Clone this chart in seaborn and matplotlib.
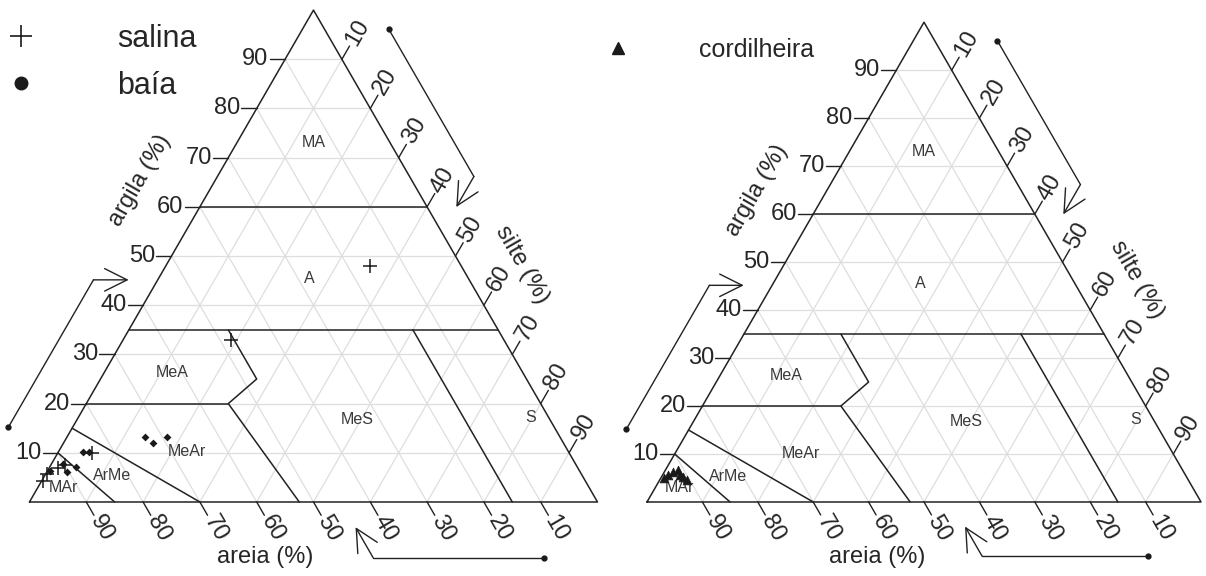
import numpy as np
import pandas as pd
import matplotlib
matplotlib.use('Agg')
import matplotlib.pyplot as plt
from matplotlib.lines import Line2D
import seaborn as sns

# amostras: areia, silte, argila (%)
salina_areia = [16, 48, 95.5, 94, 91.5, 90, 84]
salina_silte = [36, 19, 0.3, 0.3, 1.5, 2.5, 6]
salina_argila = [48, 33, 4.2, 5.7, 7, 7.5, 10]

baia_areia = [73, 72.3, 69.2, 85.5, 84.5, 93.3, 90.3, 90.4, 88.2]
baia_silte = [13.7, 15.7, 17.6, 4.4, 5.4, 0.5, 2, 3.5, 4.7]
baia_argila = [13.3, 12, 13.2, 10.1, 10.1, 6.2, 7.7, 6.1, 7.1]

cord_areia = [93.4, 92.2, 91, 90.9, 90.5, 91.2, 94.4]
cord_silte = [1, 1.6, 2.3, 3.9, 4.9, 3.2, 0.6]
cord_argila = [5.6, 6.2, 6.7, 5.2, 4.6, 5.6, 5]

# classes texturais: limites (areia, silte, argila)
limites = [
    [(40, 0, 60), (0, 40, 60)],
    [(65, 0, 35), (0, 65, 35)],
    [(15, 50, 35), (15, 85, 0)],
    [(47.5, 17.5, 35), (47.5, 27.5, 25), (55, 25, 20), (52.5, 47.5, 0)],
    [(80, 0, 20), (55, 25, 20)],
    [(85, 0, 15), (70, 30, 0)],
    [(90, 0, 10), (85, 15, 0)],
]
classes = ['MA', 'A', 'MeA', 'MeS', 'S', 'MeAr', 'ArMe', 'MAr']
classes_pos = [(13.5, 13.5, 73), (28, 26.5, 45.5), (61.7, 11.9, 26.4), (34, 49.3, 16.7),
               (3.3, 79.6, 17.1), (67.2, 22.6, 10.2), (82.8, 11.9, 5.3), (92.6, 4.4, 3.0)]
ticks = [10, 20, 30, 40, 50, 60, 70, 80, 90]

S3 = np.sqrt(3) / 2


def tern(areia, silte, argila):
    areia, silte, argila = (np.asarray(v, dtype=float) for v in (areia, silte, argila))
    tot = areia + silte + argila
    return (silte + argila / 2) / tot, argila / tot * S3


def draw_panel(ax, titles):
    # grade
    for v in ticks:
        for a, b in [((100 - v, 0, v), (0, 100 - v, v)),
                     ((v, 100 - v, 0), (v, 0, 100 - v)),
                     ((100 - v, v, 0), (0, v, 100 - v))]:
            x, y = tern(*zip(a, b))
            ax.plot(x, y, color='#dedede', lw=0.9, zorder=1)
    # contorno
    x, y = tern([100, 0, 0, 100], [0, 100, 0, 0], [0, 0, 100, 0])
    ax.plot(x, y, color='#222222', lw=1.1, zorder=2)
    for seg in limites:
        x, y = tern(*zip(*seg))
        ax.plot(x, y, color='#222222', lw=1.1, zorder=2)
    for nome, p in zip(classes, classes_pos):
        x, y = tern(*p)
        ax.text(x, y, nome, fontsize=11.5, color='#3a3a3a', ha='center', va='center', zorder=3)

    L = 0.027
    for v in ticks:
        # argila
        x, y = tern(100 - v, 0, v)
        ax.plot([x, x - L], [y, y], color='#222222', lw=1)
        ax.text(x - L - 0.002, y, str(v), fontsize=17, ha='right', va='center')
        # areia
        x, y = tern(v, 100 - v, 0)
        d = np.array([0.5, -S3])
        ax.plot([x, x + L * d[0]], [y, y + L * d[1]], color='#222222', lw=1)
        ax.text(x + (L + 0.004) * d[0], y + (L + 0.004) * d[1], str(v), fontsize=17,
                rotation=-60, rotation_mode='anchor', ha='left', va='center')
        # silte
        x, y = tern(0, v, 100 - v)
        d = np.array([0.5, S3])
        ax.plot([x, x + L * d[0]], [y, y + L * d[1]], color='#222222', lw=1)
        ax.text(x + (L + 0.004) * d[0], y + (L + 0.004) * d[1], str(v), fontsize=17,
                rotation=60, rotation_mode='anchor', ha='left', va='center')

    # setas dos eixos
    vs = np.array([0, 0]), np.array([1, 0]), np.array([0.5, S3])
    for A, B, n in [(vs[0], vs[2], np.array([-S3, 0.5])),
                    (vs[2], vs[1], np.array([S3, 0.5])),
                    (vs[1], vs[0], np.array([0, -1]))]:
        u = (B - A) / np.linalg.norm(B - A)
        p0 = A + 0.095 * (B - A) + 0.098 * n
        p1 = A + 0.395 * (B - A) + 0.098 * n
        ang = np.deg2rad(-60)
        k = np.array([u[0] * np.cos(ang) - u[1] * np.sin(ang), u[0] * np.sin(ang) + u[1] * np.cos(ang)])
        p2 = p1 + 0.062 * k
        ax.plot([p0[0], p1[0]], [p0[1], p1[1]], color='#222222', lw=1)
        ax.plot(p0[0], p0[1], 'o', color='k', ms=3.5)
        ax.annotate('', xy=p2, xytext=p1,
                    arrowprops=dict(arrowstyle='->,head_length=0.9,head_width=0.45',
                                    color='#222222', lw=1, mutation_scale=18,
                                    shrinkA=0, shrinkB=0))

    (ax_, ay_), (sx_, sy_), (rx_, ry_) = titles
    ax.text(ax_, ay_, 'argila (%)', fontsize=17, rotation=60, ha='center', va='center')
    ax.text(sx_, sy_, 'silte (%)', fontsize=17, rotation=-60, ha='center', va='center')
    ax.text(rx_, ry_, 'areia (%)', fontsize=17, ha='center', va='center')
    ax.set_axis_off()


sns.set_theme(style='white')
plt.rcParams['font.family'] = ['Liberation Sans', 'DejaVu Sans']

fig = plt.figure(figsize=(12.06, 5.76), dpi=100)
ax1 = fig.add_axes([0, 0, 0.5, 1])
ax1.set_xlim(-0.0519, 1.0097)
ax1.set_ylim(-0.1303, 0.8838)
ax2 = fig.add_axes([0.5, 0, 0.5, 1])
ax2.set_xlim(-0.0794, 1.0090)
ax2.set_ylim(-0.1336, 0.9061)

draw_panel(ax1, [(0.1945, 0.567), (0.868, 0.418), (0.415, -0.097)])
draw_panel(ax2, [(0.1986, 0.563), (0.885, 0.402), (0.415, -0.099)])

x, y = tern(salina_areia, salina_silte, salina_argila)
sns.scatterplot(x=x, y=y, ax=ax1, marker='+', color='k', s=90, linewidth=1.1, legend=False, zorder=5)
x, y = tern(baia_areia, baia_silte, baia_argila)
sns.scatterplot(x=x, y=y, ax=ax1, marker='D', color='k', s=16, linewidth=0, legend=False, zorder=5)
x, y = tern(cord_areia, cord_silte, cord_argila)
sns.scatterplot(x=x, y=y, ax=ax2, marker='^', color='k', s=40, edgecolor='k', linewidth=0.5,
                legend=False, zorder=5)

h1 = [Line2D([], [], marker='+', color='k', ls='none', ms=16, mew=1.2),
      Line2D([], [], marker='o', color='k', ls='none', ms=9)]
fig.legend(h1, ['salina', 'baía'], loc='upper left', bbox_to_anchor=(6 / 1206, 1 - 24 / 576),
           frameon=False, fontsize=22, handlelength=1, handletextpad=2.65, borderpad=0,
           labelspacing=0.55, borderaxespad=0)
h2 = [Line2D([], [], marker='^', color='k', ls='none', ms=8)]
fig.legend(h2, ['cordilheira'], loc='upper left', bbox_to_anchor=(605 / 1206, 1 - 38 / 576),
           frameon=False, fontsize=18, handlelength=1, handletextpad=2.75, borderpad=0,
           borderaxespad=0)

fig.savefig('out.png', dpi=100, facecolor='white')
